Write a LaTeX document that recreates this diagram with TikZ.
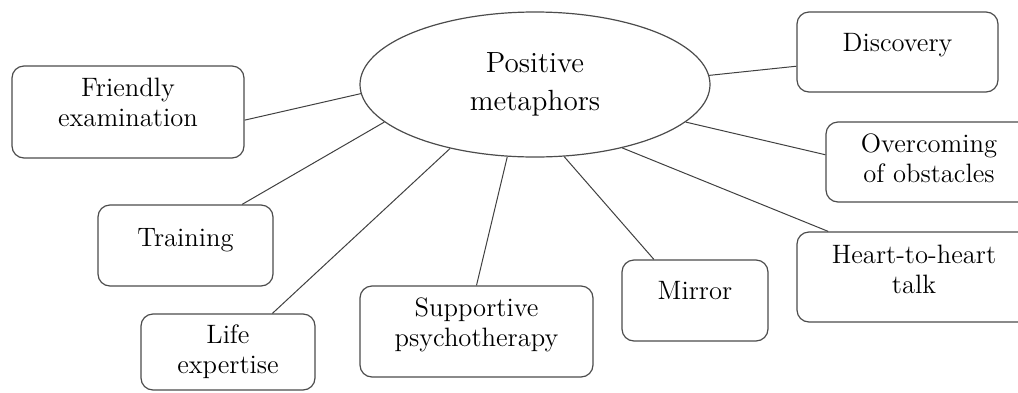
\documentclass[tikz,border=0pt]{standalone}
\usetikzlibrary{shapes.geometric}

% text sits a little above the middle of each box
\newcommand{\lift}[2][3.5pt]{\raisebox{#1}[\height][\depth]{\begin{tabular}{@{}c@{}}#2\end{tabular}}}

\begin{document}
\begin{tikzpicture}[
  x=0.5pt,y=-0.5pt,
  topic/.style={draw=black!70,ellipse,fill=white,inner sep=0pt,minimum width=175pt,minimum height=72.5pt,align=center,font=\fontsize{14.6}{19}\selectfont,line width=0.6pt},
  leaf/.style={draw=black!70,rectangle,rounded corners=6pt,fill=white,inner sep=0pt,font=\fontsize{13.3}{15}\selectfont,line width=0.6pt},
  link/.style={draw=black!75,line width=0.5pt}
]
\useasboundingbox (0,0) rectangle (1018,392);

\node[topic] (pm) at (535,84.5) {Positive\\metaphors};

\node[leaf,minimum width=100.5pt,minimum height=40pt] (disc) at (897.5,52) {\lift{Discovery}};
\node[leaf,minimum width=116pt,minimum height=46pt] (friend) at (128,112) {\lift{Friendly\\examination}};
\node[leaf,minimum width=103pt,minimum height=40pt] (overc) at (929,162) {\lift[0.5pt]{Overcoming\\of obstacles}};
\node[leaf,minimum width=87.5pt,minimum height=40.5pt] (train) at (185.5,245.5) {\lift[2.75pt]{Training}};
\node[leaf,minimum width=87pt,minimum height=38pt] (life) at (228,352) {\lift[0pt]{Life\\expertise}};
\node[leaf,minimum width=116.5pt,minimum height=45.5pt] (supp) at (476.5,331.5) {\lift[3.25pt]{Supportive\\psychotherapy}};
\node[leaf,minimum width=73pt,minimum height=40.5pt] (mirror) at (695,300.5) {\lift[3.75pt]{Mirror}};
\node[leaf,minimum width=117pt,minimum height=45pt] (heart) at (914,277) {\lift[2.5pt]{Heart-to-heart\\talk}};

\draw[link] (pm.3) -- (disc.188);
\draw[link] (pm.-14) -- (overc.176);
\draw[link] (pm.-36) -- (heart.152);
\draw[link] (pm.-68) -- (mirror.135);
\draw[link] (pm.249) -- (supp.north);
\draw[link] (pm.217) -- (life.41);
\draw[link] (pm.194) -- (train.36);
\draw[link] (pm.183) -- (friend.356);

\end{tikzpicture}
\end{document}
